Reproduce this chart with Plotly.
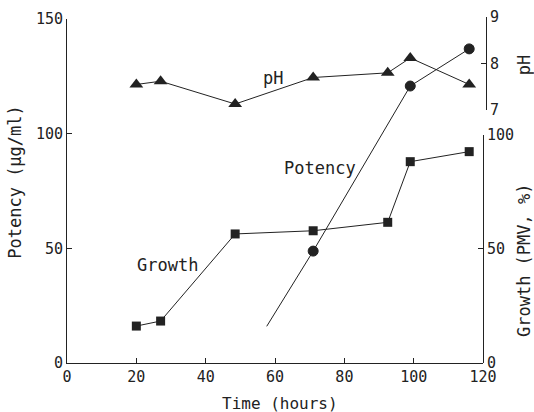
import plotly.graph_objects as go

# Data
ph_time = [20, 27, 48.5, 71, 92.5, 99, 116]
ph_values = [7.55, 7.62, 7.13, 7.7, 7.8, 8.12, 7.55]

growth_time = [20, 27, 48.5, 71, 92.5, 99, 116]
growth_values = [16.2, 18.4, 56.6, 58.0, 61.7, 88.3, 92.7]

potency_time = [57.6, 71, 99, 116]
potency_values = [16, 48.8, 120.8, 137]
potency_marker_sizes = [0, 10, 10, 10]

x_ticks = [0, 20, 40, 60, 80, 100, 120]
potency_ticks = [0, 50, 100, 150]
growth_ticks = [0, 50, 100]
ph_ticks = [7, 8, 9]

FONT = "DejaVu Sans Mono"
INK = "#222222"

fig = go.Figure()

fig.add_trace(go.Scatter(
    x=potency_time, y=potency_values, mode="lines+markers",
    line=dict(color=INK, width=1),
    marker=dict(symbol="circle", size=potency_marker_sizes, color=INK, opacity=1,
                line=dict(color=INK, width=1)),
    xaxis="x", yaxis="y", showlegend=False))

fig.add_trace(go.Scatter(
    x=growth_time, y=growth_values, mode="lines+markers",
    line=dict(color=INK, width=1),
    marker=dict(symbol="square", size=9, color=INK),
    xaxis="x", yaxis="y2", showlegend=False))

fig.add_trace(go.Scatter(
    x=ph_time, y=ph_values, mode="lines+markers",
    line=dict(color=INK, width=1),
    marker=dict(symbol="triangle-up", size=12, color=INK),
    xaxis="x", yaxis="y3", showlegend=False))

axis_common = dict(showline=True, linecolor=INK, linewidth=1, ticks="inside",
                   tickcolor=INK, ticklen=5, showgrid=False, zeroline=False,
                   automargin=False,
                   tickfont=dict(family=FONT, size=15, color=INK))

fig.update_layout(
    width=534, height=412,
    margin=dict(l=67, r=48, t=17, b=49, autoexpand=False),
    paper_bgcolor="white", plot_bgcolor="rgba(0,0,0,0)",
    font=dict(family=FONT, size=15, color=INK),
    xaxis=dict(domain=[0, 0.993], range=[0, 120], tickvals=x_ticks, **axis_common),
    yaxis=dict(domain=[0, 0.994], range=[0, 150], tickvals=potency_ticks, anchor="x",
               **axis_common),
    yaxis2=dict(domain=[0, 0.659], range=[0, 100], tickvals=growth_ticks, anchor="x",
                side="right", **axis_common),
    yaxis3=dict(domain=[0.731, 1.0], range=[7, 9], tickvals=ph_ticks, anchor="free",
                position=1.0, side="right", **axis_common),
)

annots = [
    dict(text="Potency (μg/ml)", x=-0.124, y=0.524, xref="paper", yref="paper",
         textangle=-90, size=17),
    dict(text="pH", x=1.091, y=0.861, xref="paper", yref="paper", textangle=-90, size=17),
    dict(text="Growth (PMV, %)", x=1.091, y=0.298, xref="paper", yref="paper",
         textangle=-90, size=17),
    dict(text="Time (hours)", x=0.508, y=-0.118, xref="paper", yref="paper", size=16),
    dict(text="pH", x=59.4, y=124.3, xref="x", yref="y", size=17),
    dict(text="Potency", x=73, y=85, xref="x", yref="y", size=17),
    dict(text="Growth", x=28.9, y=42.7, xref="x", yref="y", size=17),
]
for a in annots:
    size = a.pop("size")
    fig.add_annotation(showarrow=False, font=dict(family=FONT, size=size, color=INK),
                       xanchor="center", yanchor="middle", **a)

fig.write_html("out.html", config={"displayModeBar": False},
               post_script="document.body.style.margin='0';document.body.style.overflow='hidden';")
